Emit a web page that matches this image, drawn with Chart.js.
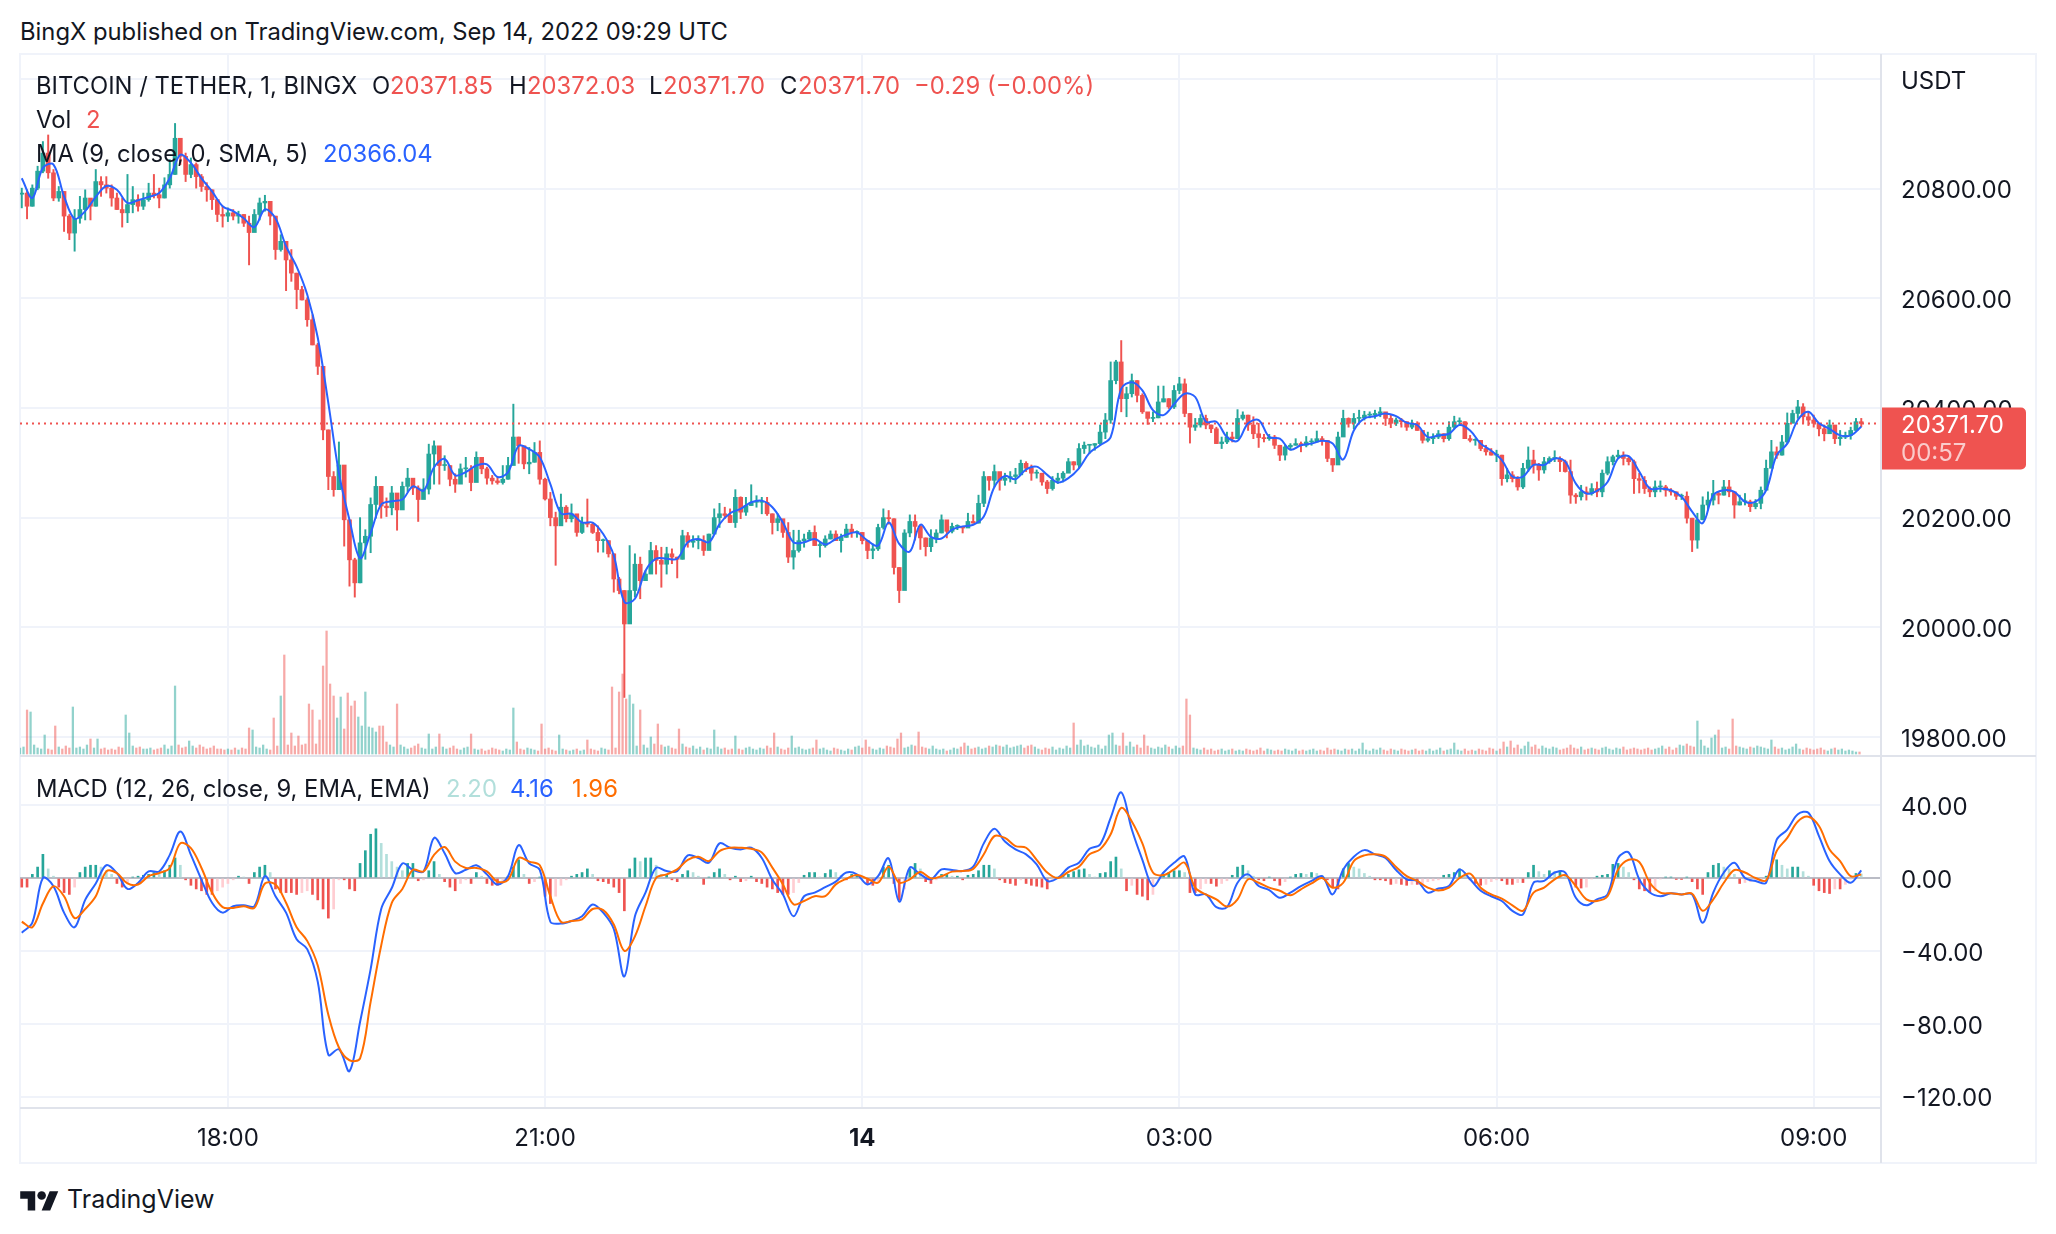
<!DOCTYPE html>
<html>
<head>
<meta charset="utf-8">
<title>BTCUSDT 1m</title>
<script src="https://cdn.jsdelivr.net/npm/chart.js@4"></script>
<style>
html, body { margin: 0; padding: 0; background: #fff; }
body { width: 2056px; height: 1234px; position: relative; overflow: hidden; font-family: Inter, "Noto Sans", sans-serif; color: #131722; }
canvas { position: absolute; left: 20px; }
.t { position: absolute; font-size: 23.8px; line-height: 30px; white-space: pre; }
.r { color: #ef5350; } .b { color: #2962ff; } .o { color: #ff6d00; } .g { color: #b2dfdb; }
.line { position: absolute; background: #f0f3fa; }
.sep { position: absolute; background: #e0e3eb; }
</style>
</head>
<body>
<div class="line" style="left:19px;top:53px;width:2018px;height:2px"></div>
<div class="line" style="left:19px;top:1162px;width:2018px;height:2px"></div>
<div class="line" style="left:19px;top:53px;width:2px;height:1111px"></div>
<div class="line" style="left:2035px;top:53px;width:2px;height:1111px"></div>
<canvas id="mainChart" width="2016" height="701" style="top:54px"></canvas>
<canvas id="macdChart" width="2016" height="406" style="top:757px"></canvas>
<div class="sep" style="left:20px;top:755px;width:2016px;height:2px"></div>
<div class="sep" style="left:20px;top:1107px;width:1861px;height:2px"></div>
<div class="sep" style="left:1880px;top:54px;width:2px;height:1109px"></div>

<div class="t" style="left:20px;top:17px">BingX published on TradingView.com, Sep 14, 2022 09:29 UTC</div>
<div class="t" style="left:36px;top:71px">BITCOIN / TETHER, 1, BINGX</div>
<div class="t" style="left:372px;top:71px">O</div><div class="t r" style="left:390px;top:71px">20371.85</div>
<div class="t" style="left:509px;top:71px">H</div><div class="t r" style="left:527px;top:71px">20372.03</div>
<div class="t" style="left:649px;top:71px">L</div><div class="t r" style="left:663px;top:71px">20371.70</div>
<div class="t" style="left:780px;top:71px">C</div><div class="t r" style="left:798px;top:71px">20371.70</div>
<div class="t r" style="left:914px;top:71px">−0.29 (−0.00%)</div>
<div class="t" style="left:36px;top:105px">Vol</div><div class="t r" style="left:86px;top:105px">2</div>
<div class="t" style="left:36px;top:139px">MA (9, close, 0, SMA, 5)</div><div class="t b" style="left:323px;top:139px">20366.04</div>
<div class="t" style="left:36px;top:774px">MACD (12, 26, close, 9, EMA, EMA)</div>
<div class="t g" style="left:446px;top:774px">2.20</div><div class="t b" style="left:510px;top:774px">4.16</div><div class="t o" style="left:572px;top:774px">1.96</div>

<svg style="position:absolute;left:20px;top:1187px" width="39" height="30" viewBox="0 0 36 28"><path fill="#131722" d="M14 22H7V11H0V4h14v18zM28 22h-8l7.5-18h8L28 22z"/><circle fill="#131722" cx="20" cy="8" r="4"/></svg>
<div class="t" style="left:67px;top:1184px;font-size:25px">TradingView</div>

<script>
// One candle per 3 minutes, first one at 16:03 (minute -117 from 18:00)
var closes = [
20792,20768,20801,20832,20865,20829,20783,20795,20750,20719,20746,20762,20783,20768,20813,20807,20801,20783,20762,20756,
20771,20780,20768,20780,20792,20789,20783,20807,20826,20892,20859,20826,20844,20822,20804,20798,20780,20753,20750,20756,
20750,20753,20737,20720,20753,20774,20777,20750,20689,20704,20670,20646,20616,20597,20561,20515,20476,20360,20275,20251,
20296,20196,20123,20081,20154,20166,20224,20257,20221,20218,20245,20214,20257,20272,20254,20233,
20252,20316,20331,20295,20295,20270,20261,20289,20289,20264,20310,20289,20272,20267,20264,20270,20295,20347,20331,20298,
20301,20319,20270,20234,20200,20185,20219,20198,20207,20173,20191,20188,20173,20158,20158,20134,20088,20067,20006,20067,
20115,20085,20097,20140,20122,20115,20134,20128,20124,20167,20155,20158,20158,20140,20170,20200,20207,20204,20191,20237,
20210,20222,20228,20228,20228,20207,20191,20198,20173,20128,20140,20158,20161,20173,20149,20149,20161,20170,20158,20164,
20179,20173,20173,20158,20140,20143,20182,20200,20198,20109,20067,
20172,20193,20184,20163,20147,20163,20172,20196,20175,20184,20184,20181,20193,20190,20226,20275,20268,20284,20268,20272,
20275,20278,20299,20290,20281,20281,20265,20253,20268,20272,20281,20302,20296,20326,20332,20332,20335,20356,20378,20450,
20484,20417,20426,20450,20423,20393,20381,20382,20411,20417,20402,20432,20444,20390,20365,20369,20381,20369,20362,20335,
20338,20347,20344,20381,20387,20369,20353,20346,20344,20347,20332,20314,20329,20332,20335,20332,20338,20338,20344,20341,
20308,20296,20347,20381,20372,20381,20382,20387,20387,20390,20393,20381,20372,20378,
20375,20365,20372,20359,20341,20344,20347,20353,20344,20365,20375,20375,20344,20341,20341,20326,20320,20314,20314,20271,
20278,20271,20256,20290,20305,20296,20287,20302,20308,20308,20302,20284,20241,20238,20247,20244,20253,20247,20281,20302,
20311,20314,20308,20302,20271,20268,20253,20247,20256,20256,20250,20247,20239,20239,20199,20159,20196,20223,20232,20244,
20241,20256,20247,20223,20229,20229,20220,20226,20250,20290,20320,20314,20338,20372,20390,20402,20384,20378,20372,20362,
20353,20369,20344,20347,20350,20359,20375,20371.7];
var highs = [
20801,20798,20807,20841,20886,20898,20835,20804,20795,20753,20762,20786,20798,20780,20835,20822,20822,20807,20792,20783,
20826,20804,20789,20792,20810,20826,20801,20820,20853,20919,20886,20865,20856,20847,20826,20811,20798,20780,20768,20765,
20762,20759,20753,20750,20762,20783,20788,20771,20750,20716,20704,20689,20646,20622,20601,20570,20518,20476,20360,20284,
20338,20278,20196,20126,20200,20178,20236,20275,20257,20236,20257,20239,20265,20290,20261,20258,
20271,20334,20340,20319,20313,20295,20280,20298,20310,20295,20320,20310,20292,20277,20275,20295,20310,20407,20347,20325,
20328,20337,20340,20272,20246,20210,20243,20222,20225,20201,20201,20234,20191,20185,20161,20158,20134,20091,20067,20149,
20134,20128,20103,20155,20149,20146,20146,20143,20128,20177,20173,20167,20167,20167,20170,20216,20226,20219,20216,20251,
20238,20237,20260,20240,20237,20237,20207,20207,20191,20191,20177,20177,20170,20177,20185,20155,20167,20176,20176,20170,
20188,20188,20176,20173,20158,20152,20188,20216,20213,20198,20109,
20178,20205,20205,20187,20163,20178,20178,20205,20190,20190,20187,20184,20208,20205,20241,20284,20275,20296,20281,20281,
20284,20290,20305,20302,20296,20287,20281,20268,20275,20281,20284,20308,20302,20335,20338,20332,20335,20369,20390,20484,
20487,20523,20438,20462,20450,20426,20390,20393,20440,20440,20417,20441,20456,20453,20390,20381,20388,20387,20369,20365,
20347,20356,20356,20397,20393,20387,20384,20372,20352,20352,20350,20332,20332,20335,20344,20338,20348,20344,20358,20348,
20341,20302,20356,20396,20382,20390,20396,20394,20393,20396,20401,20390,20387,20382,
20381,20375,20378,20375,20359,20356,20353,20359,20353,20375,20385,20382,20375,20350,20344,20341,20332,20326,20323,20314,
20290,20284,20275,20299,20329,20323,20299,20310,20311,20322,20311,20305,20305,20244,20259,20256,20262,20265,20287,20311,
20314,20323,20320,20311,20305,20281,20275,20256,20267,20267,20259,20253,20247,20243,20247,20199,20208,20238,20247,20268,
20247,20268,20268,20241,20241,20244,20232,20233,20256,20305,20341,20329,20350,20391,20396,20414,20408,20393,20387,20372,
20369,20378,20359,20359,20356,20365,20381,20381];
var lows = [
20765,20745,20768,20798,20829,20819,20778,20777,20722,20707,20686,20737,20743,20743,20768,20786,20792,20768,20762,20730,
20738,20756,20759,20762,20777,20783,20765,20783,20801,20826,20844,20813,20820,20801,20795,20777,20762,20740,20730,20740,
20743,20737,20731,20661,20731,20743,20759,20734,20671,20686,20614,20631,20581,20597,20549,20515,20461,20342,20251,20239,
20257,20148,20075,20055,20081,20124,20136,20199,20199,20202,20205,20177,20221,20247,20242,20193,
20237,20243,20261,20261,20286,20258,20246,20277,20274,20249,20267,20280,20261,20261,20261,20261,20270,20310,20299,20289,
20280,20301,20261,20232,20185,20113,20188,20192,20192,20166,20171,20183,20171,20137,20137,20128,20064,20061,19872,20012,
20055,20052,20088,20103,20097,20073,20097,20116,20090,20124,20146,20146,20143,20131,20149,20170,20182,20198,20191,20182,
20198,20204,20222,20219,20207,20204,20170,20176,20164,20118,20106,20137,20146,20158,20149,20128,20146,20161,20158,20137,
20164,20164,20164,20152,20125,20125,20140,20179,20188,20097,20045,
20129,20165,20159,20142,20130,20138,20154,20172,20163,20172,20178,20172,20187,20190,20190,20220,20250,20256,20250,20259,
20265,20262,20284,20284,20268,20272,20259,20244,20250,20262,20265,20287,20287,20290,20317,20317,20323,20332,20344,20372,
20444,20393,20384,20420,20411,20390,20370,20375,20382,20411,20399,20399,20426,20384,20336,20359,20365,20362,20355,20335,
20326,20335,20338,20344,20378,20359,20344,20328,20338,20341,20326,20304,20305,20323,20332,20320,20329,20332,20338,20332,
20302,20284,20302,20356,20365,20362,20374,20378,20382,20381,20384,20368,20364,20368,
20365,20359,20362,20359,20336,20338,20335,20344,20338,20341,20362,20368,20344,20338,20332,20322,20314,20314,20302,20259,
20265,20265,20250,20253,20284,20281,20268,20281,20299,20302,20284,20283,20226,20226,20232,20232,20241,20238,20238,20278,
20296,20308,20296,20296,20244,20245,20244,20238,20238,20247,20239,20241,20233,20233,20190,20138,20144,20196,20214,20223,
20225,20241,20238,20199,20223,20223,20211,20216,20216,20250,20305,20308,20314,20335,20375,20381,20372,20368,20365,20349,
20340,20359,20335,20332,20344,20343,20359,20366];
var firstOpen = 20790;

// MA line, MACD and signal, read every 6 minutes from the same start
var maLine = [
20819,20783,20838,20844,20786,20745,20759,20785,20805,20798,20774,20779,20785,20792,20819,20862,20847,20819,20795,20768,
20759,20746,20730,20762,20746,20695,20658,20607,20528,20409,20281,20196,20126,20172,20224,20230,20233,20257,20249,20292,
20307,20277,20283,20295,20297,20274,20283,20331,20325,20310,20261,20208,20207,20191,20191,20170,20131,20046,20052,20103,
20125,20125,20125,20155,20161,20155,20188,20208,20216,20228,20231,20219,20191,20155,20155,20161,20151,20161,20169,20173,
20158,20149,20191,20152,20138,20187,20165,20162,20178,20184,20187,20202,20256,20276,20270,20288,20293,20278,20264,20272,
20290,20318,20332,20347,20435,20447,20432,20396,20387,20407,20426,20420,20375,20375,20347,20340,20372,20378,20347,20344,
20324,20332,20335,20340,20335,20306,20359,20381,20385,20390,20385,20373,20369,20347,20350,20353,20369,20359,20335,20322,
20305,20275,20275,20296,20296,20308,20302,20262,20244,20249,20265,20308,20312,20284,20253,20253,20250,20238,20211,20190,
20241,20250,20247,20229,20229,20250,20314,20335,20378,20393,20372,20362,20350,20350,20366];
var macdLine = [
-30,-24.5,0,-4.5,-19,-27,-12,-3,7,2.7,-6,-2.7,3.6,3.6,12.7,25.5,12.7,-1,-13.6,-19,
-15.5,-15,-15.5,1,-10,-19,-33.6,-39,-57,-97,-94,-106,-79,-50,-17,-5.5,8,4.5,3.6,22,
13.6,2.7,4.5,7,2,-3.6,1,18,8,4.5,-24,-25,-23.6,-21,-14.5,-19,-28,-54,-21,-8,
5.6,3.8,3.8,12.4,11,8.4,19,16.6,15.7,16.6,11,-1,-9,-21,-10,-8,-5,-2,3,2,
-3.5,1,10.8,-13,5.7,2,-0.7,4.7,4.4,3.8,6.2,19,27,20,15.7,13,7.5,-1.6,0,5.7,
8.4,16,18.4,33,47,26.6,10,-4.4,3,8.4,11.7,-9,-9,-16,-16,-2.6,2,-4.4,-6.6,-10.8,
-8,-4.4,-1.6,1,-9,4.7,11.7,15.3,13,11,4.4,-0.7,-1.6,-8,-5.8,-4.4,4.7,-0.7,-7,-10,
-12.6,-18,-20,-2.6,-1.6,3,3,-10.8,-15,-11.7,-9,11,14,-0.7,-8,-10,-8.4,-9,-9,-24.5,
-8,3,8.4,0,-1.6,-2.6,21,26.6,35,35.8,23,9.3,2,-2.6,4.16];
var signalLine = [
-24,-27,-14,-4.5,-10,-22,-17,-10,3.6,2.7,-3,-3.6,1,2.7,5.5,19,16.4,5.5,-8,-16,
-16.4,-15.5,-16.4,-3,-3.6,-13.6,-27,-34.5,-48,-75,-93,-100,-99,-68,-37,-13.6,-6,4.5,3.6,12.7,
17,9,5.5,5.5,3.6,-2,-1,11,9,7,-10,-24,-23.6,-22.7,-17,-17.6,-25.5,-40,-32,-15.5,
0,2,4.7,10,11.7,9.3,14.8,16.6,16.6,16,14,5.7,-3.5,-14.4,-12.6,-10,-10,-3.5,-0.4,1.6,
-0.4,-2.6,6.2,-2.6,-0.7,3.3,-0.2,1,3.5,3.8,5,13,23,22,17.5,16.6,10,3,0,3.3,
6.2,13,15.7,24,38.5,31,19,3,1.6,4.7,8.4,-5.3,-9,-11.7,-15.7,-11.7,-0.7,-2.6,-5.3,-7,
-9.5,-6.2,-3,0,-5.3,-2.6,9.3,12.4,13,11.7,6,1,-1.6,-5.3,-6.8,-5.3,0,2.4,-5.3,-9,
-11.3,-15,-18,-8,-5.3,-0.7,1.6,-4.4,-11.7,-12.6,-10,4.7,10,8.8,-2.6,-8,-8.4,-9,-8.6,-18,
-11.7,-2.6,4.4,3,0,-1.3,14.8,22,31,33.6,28.5,15.7,9.3,1,1.96];

// MACD histogram, one bar per candle
var macdHist = [
-5,-5,2,6,13,5,1,-5,-8,-9,-5,3,6,7,7,6,4,2,-3,-5,
-3,0.5,1,1.5,2,3,2.5,4,7,11,7,-1,-4,-6,-7,-9,-9,-7,-5,-3,
-1,1,0.5,-3,3,6,7,3,-6,-8,-8,-8,-9,-8,-7,-9,-12,-17,-22,-17,
-1,-1,-6,-7,8,15,24,27,19,13,9,6,4,8,8,-1.5,-1,4,9,2,
-2,-5,-7,-3,-1,-3,3,1,-3,-4,-4,-2,1,6,10,2,-3,-2,0.5,-10,
-14,-10,-4,-1,1,2,3,5,2,-1.5,-2,-3,-5,-8,-18,5,11,9,11,11,
7,2,2,-1,-2,2,4,3,1,-3.5,0.5,3,5,2,-1,1,-2,-1.5,1,-2,
-3,-5,-6,-8,-9,-9,-8,-2.5,1.5,3,3,0.5,2.5,4.5,3,1.5,-1,2,2,1,
-3,-4,-2,6,7,-3,-12,-6,5,8,5,-2,-3,-1,2,2,1,1,-1,1.5,
2,4,7,7,5,-1,-2.5,-3,-4,-1,-3,-4,-4.5,-5,-6,-1,0.5,1.5,2,3.5,
4.5,5,2,0.5,2.5,3,9,11.5,5,-7,-4,-9,-10,-12,-9,-1,1.5,3,4,4,
3,-8,-8,-6,-3,-3,-4.5,-3,-1.5,1.5,6,7,4,1,-1,-1.5,0.5,-1.5,-4,-2,
0.5,2,2.5,2,3,2.5,1.5,-1,-5,-6,5,8,6,5,2.5,1,-1,-1,-1.5,-3.5,
-3,-3.5,-4,-3.5,-3.5,-3,-2,-1.5,-1,1.5,2,3,5,3,-1,-3,-4,-3.5,-2,-1,
-1.5,-3.5,-3.5,-2.5,-2.5,3,7,3.5,2,4,3.5,4,1,-1.5,-5,-5.5,-5,-0.5,1,1.5,
2,7.5,8,6,3,-1,-6,-7,-8,-7,-0.5,0.5,0.5,-0.8,-0.8,0.5,-2,-6,-9,3,
7,8,6,5,2,-3,-2.5,-2,-1,-0.5,1,7,10,7,5,6,6,3.5,1,-4,
-7,-8,-8.5,-6,-6,-3.5,-0.5,2.5,2.2];

// Volume, read every 2 minutes from 16:02
var volumes = [
6,7,44,42,9,6,5,19,5,4,28,7,5,8,6,47,6,7,5,9,
15,6,15,5,6,4,5,4,7,6,39,21,8,6,7,5,5,6,4,5,
6,9,5,8,68,9,6,7,13,8,6,9,7,5,6,8,5,5,4,5,
4,6,4,6,5,26,24,7,6,9,5,4,36,8,58,99,9,21,8,18,
9,10,50,44,10,34,88,123,70,58,36,57,25,61,48,53,37,28,62,27,
26,22,28,28,12,9,7,50,9,7,5,6,8,10,6,5,20,5,7,20,
7,5,6,8,5,4,6,7,20,5,4,5,3,4,6,5,4,3,5,4,
46,12,5,4,6,5,4,3,30,5,6,4,3,19,5,4,3,4,5,3,
4,14,5,4,3,6,5,4,67,6,62,80,55,59,50,8,44,9,6,17,
10,30,9,7,8,6,5,25,10,7,6,8,5,7,4,6,5,24,7,5,
6,4,5,18,5,4,6,7,5,4,6,5,8,6,21,7,5,4,6,18,
6,7,5,4,5,6,14,5,6,4,3,6,5,4,3,5,4,7,8,6,
14,7,5,4,6,5,8,7,6,15,21,6,7,9,8,22,7,6,5,8,
5,4,5,3,4,6,5,7,11,8,5,6,7,5,6,8,7,9,8,7,
9,6,7,8,9,6,8,9,7,5,4,6,5,7,4,6,5,8,6,31,
9,14,8,9,7,6,9,5,8,19,21,9,8,21,8,12,7,9,6,19,
8,6,5,7,6,9,7,5,8,6,8,55,39,6,5,4,6,4,5,3,
4,5,3,4,5,3,4,3,5,4,3,4,6,3,5,4,3,4,3,5,
4,3,5,3,4,3,4,5,3,4,3,6,4,5,4,3,5,4,5,3,
5,11,4,3,5,4,6,4,3,5,4,3,5,4,3,4,5,3,4,3,
5,3,4,6,3,4,5,11,4,3,5,3,4,3,5,4,3,6,5,3,
5,12,7,13,6,9,5,8,12,7,9,5,8,6,5,7,6,4,5,6,
9,6,5,7,4,5,6,5,4,6,7,5,4,6,5,7,4,5,6,5,
4,5,6,4,5,6,8,5,7,4,6,9,8,10,8,7,33,14,8,6,
16,19,24,6,7,5,35,8,7,6,5,7,6,8,7,6,5,14,7,5,
6,4,5,7,10,5,4,6,5,4,5,6,4,3,5,6,4,5,3,4,3,2,2];

var priceTicks = [21000, 20800, 20600, 20400, 20200, 20000, 19800];
var macdTicks = [40, 0, -40, -80, -120];
var timeTicks = [0, 180, 360, 540, 720, 900];
var timeLabels = ['18:00', '21:00', '14', '03:00', '06:00', '09:00'];
var lastPrice = 20371.7;

var UP = '#26a69a', DOWN = '#ef5350';
var X_MIN = -118, X_MAX = 938.2;

var opens = closes.map(function (c, i) { return i == 0 ? firstOpen : closes[i - 1]; });
function candleMinute(i) { return -117 + 3 * i; }
function lineMinute(k) { return -117 + 6 * k; }
function volMinute(j) { return -118 + 2 * j; }
function candleColor(i) { return closes[i] >= opens[i] ? UP : DOWN; }

function volColor(j) {
    var i = Math.min(closes.length - 1, Math.max(0, Math.round((volMinute(j) + 117) / 3)));
    return candleColor(i) + '80';
}

function histColor(i) { //Same four colours TradingView uses for growing / falling
    var prev = i > 0 ? macdHist[i - 1] : 0, v = macdHist[i];
    if (v >= 0) return v >= prev ? UP : '#b2dfdb';
    return v <= prev ? DOWN : '#ffcdd2';
}

function line(values, minuteOf, color, axis, order) {
    return {
        type: 'line',
        data: values.map(function (v, k) { return { x: minuteOf(k), y: v }; }),
        borderColor: color, borderWidth: 2, pointRadius: 0, tension: 0.35,
        yAxisID: axis, order: order
    };
}

function fixedTicks(values) {
    return function (axis) { axis.ticks = values.map(function (v) { return { value: v }; }); };
}

function noLabelPadding(s) { //Labels may overhang the plot, panes have to fill the canvas
    s.paddingTop = s.paddingBottom = s.paddingLeft = s.paddingRight = 0;
    s._margins = { left: 0, right: 0, top: 0, bottom: 0 };
}

var gridColor = '#f0f3fa';
// lineHeight 5 with an empty first line (see yAxis) nudges the labels 2.5px down onto the grid lines
var tickFont = { family: 'Inter', size: 24, lineHeight: '5px' };

function xAxis(height, showLabels) {
    return {
        type: 'linear', min: X_MIN, max: X_MAX, offset: false,
        afterBuildTicks: fixedTicks(timeTicks),
        afterFit: function (s) { noLabelPadding(s); s.height = height; },
        border: { display: false },
        grid: { color: gridColor, lineWidth: 2, drawTicks: false, offset: false },
        ticks: {
            display: showLabels, color: '#131722', padding: 16, maxRotation: 0, autoSkip: false,
            font: function (ctx) { return { family: 'Inter', size: 24, weight: ctx.index == 2 ? 'bold' : 'normal' }; },
            callback: function (v) { return timeLabels[timeTicks.indexOf(v)]; }
        }
    };
}

function yAxis(min, max, values, label) {
    return {
        position: 'right', min: min, max: max,
        afterBuildTicks: fixedTicks(values),
        afterFit: function (s) { noLabelPadding(s); s.width = 155; },
        border: { display: false },
        grid: { color: gridColor, lineWidth: 2, drawTicks: false },
        ticks: {
            color: '#131722', padding: 20, font: tickFont, autoSkip: false,
            callback: function (v) { return ['', label(v)]; }
        }
    };
}

// Red tag with last price and countdown, on top of the axis labels
var priceTag = {
    id: 'priceTag',
    afterDraw: function (chart) {
        var c = chart.ctx, y = chart.scales.y.getPixelForValue(lastPrice), x = chart.chartArea.right;
        c.save();
        c.fillStyle = DOWN;
        c.beginPath();
        c.roundRect(x, y - 16, 145, 62, [0, 5, 5, 0]);
        c.fill();
        c.font = '24px Inter';
        c.textBaseline = 'middle';
        c.fillStyle = '#ffffff';
        c.fillText('20371.70', x + 20, y + 2);
        c.fillStyle = 'rgba(255,255,255,0.7)';
        c.fillText('00:57', x + 20, y + 30);
        c.restore();
    }
};

new Chart(document.getElementById('mainChart').getContext('2d'), {
    type: 'bar',
    data: {
        datasets: [
            line(maLine, lineMinute, '#2962ff', 'y', 0),
            {
                type: 'line',
                data: [{ x: X_MIN, y: lastPrice }, { x: X_MAX, y: lastPrice }],
                borderColor: DOWN, borderWidth: 2, borderDash: [2, 4], pointRadius: 0,
                yAxisID: 'y', order: 1
            },
            {
                data: closes.map(function (c, i) { return { x: candleMinute(i), y: [opens[i], c] }; }),
                backgroundColor: closes.map(function (c, i) { return candleColor(i); }),
                barThickness: 4, minBarLength: 1, grouped: false, yAxisID: 'y', order: 2
            },
            {
                data: closes.map(function (c, i) { return { x: candleMinute(i), y: [lows[i], highs[i]] }; }),
                backgroundColor: closes.map(function (c, i) { return candleColor(i); }),
                barThickness: 1.3, grouped: false, yAxisID: 'y', order: 3
            },
            {
                data: volumes.map(function (v, j) { return { x: volMinute(j), y: v }; }),
                backgroundColor: volumes.map(function (v, j) { return volColor(j); }),
                barThickness: 1.6, grouped: false, yAxisID: 'yVol', order: 4
            }
        ]
    },
    options: {
        responsive: false, animation: false, events: [],
        layout: { padding: 0, autoPadding: false },
        plugins: { legend: { display: false }, tooltip: { enabled: false } },
        scales: {
            x: xAxis(0, false),
            y: yAxis(19767, 21045.7, priceTicks, function (v) { return v == 21000 ? 'USDT' : v.toFixed(2); }),
            yVol: { display: false, min: -1, max: 700 }
        }
    },
    plugins: [priceTag]
});

new Chart(document.getElementById('macdChart').getContext('2d'), {
    type: 'bar',
    data: {
        datasets: [
            line(macdLine, lineMinute, '#2962ff', 'y', 1),
            line(signalLine, lineMinute, '#ff6d00', 'y', 0),
            {
                data: macdHist.map(function (v, i) { return { x: candleMinute(i), y: v }; }),
                backgroundColor: macdHist.map(function (v, i) { return histColor(i); }),
                barThickness: 2, grouped: false, yAxisID: 'y', order: 2
            },
            {
                type: 'line',
                data: [{ x: X_MIN, y: 0 }, { x: X_MAX, y: 0 }],
                borderColor: '#a8aab3', borderWidth: 1.5, pointRadius: 0,
                yAxisID: 'y', order: 3
            }
        ]
    },
    options: {
        responsive: false, animation: false, events: [],
        layout: { padding: 0, autoPadding: false },
        plugins: { legend: { display: false }, tooltip: { enabled: false } },
        scales: {
            x: xAxis(55, true),
            y: yAxis(-126.2, 66.4, macdTicks, function (v) { return (v < 0 ? '−' : '') + Math.abs(v).toFixed(2); })
        }
    }
});
</script>
</body>
</html>
